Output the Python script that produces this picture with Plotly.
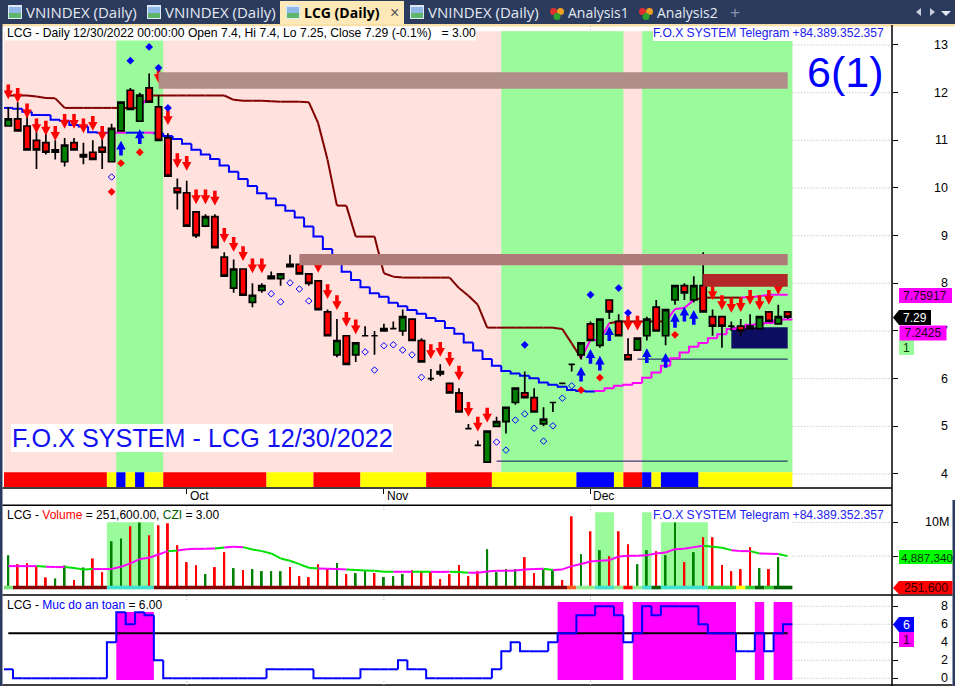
import plotly.graph_objects as go

# ---------- data ----------
open_ = [11.30,11.45,11.30,11.0,10.95,10.75,10.55,10.95,10.65,10.75,
         10.85,10.55,11.2,12.05,11.4,12.1,11.7,11.05,10.0,9.9,
         9.5,9.2,9.4,8.55,7.9,8.3,7.6,7.85,8.1,8.1,
         8.4,8.4,8.2,8.05,7.4,6.5,6.9,6.5,6.9,6.9,
         7.0,7.05,7.0,7.25,6.8,6.0,6.15,5.9,5.7,4.95,
         4.6,4.25,5.0,5.1,5.5,5.7,5.6,5.05,5.5,5.9,
         6.3,6.5,7.15,6.7,7.65,7.2,6.5,6.6,6.9,7.5,
         6.9,7.65,7.95,7.65,7.95,7.3,7.3,7.1,7.1,7.1,
         7.05,7.4,7.15,7.4]
high = [11.7,11.8,11.55,11.25,11.2,11.0,11.05,11.05,10.95,11.0,
        11.05,11.35,11.8,12.1,12.0,12.4,11.95,11.15,10.2,10.15,
        9.5,9.45,9.45,8.65,8.5,8.3,8.0,8.0,8.25,8.2,
        8.6,8.4,8.2,8.05,7.45,7.25,6.9,6.75,7.1,7.0,
        7.15,7.2,7.45,7.25,6.85,6.2,6.3,5.9,5.8,5.05,
        4.7,4.9,5.2,5.4,5.8,6.15,5.8,5.4,5.5,5.9,
        6.3,6.75,7.2,7.25,7.65,7.35,6.85,6.85,7.3,7.65,
        7.45,7.95,8.0,8.15,8.65,7.45,7.3,7.2,7.25,7.35,
        7.3,7.4,7.55,7.4]
low = [11.3,11.2,10.8,10.4,10.7,10.6,10.45,10.8,10.5,10.6,
       10.4,10.55,11.2,11.65,11.4,11.8,11.0,10.25,9.55,9.2,
       8.95,9.2,8.75,8.15,7.8,7.75,7.5,7.8,8.15,7.95,
       8.35,8.2,7.95,7.45,6.9,6.45,6.3,6.35,6.9,6.5,
       7.0,7.05,6.9,6.8,6.35,5.95,6.05,5.7,5.3,4.95,
       4.6,4.25,5.0,4.85,5.45,5.6,5.3,5.0,5.3,5.9,
       6.15,6.4,6.8,6.65,7.25,6.9,6.4,6.6,6.8,7.0,
       6.7,7.55,7.65,7.6,7.4,6.9,6.65,7.0,6.9,7.05,
       7.05,7.2,7.15,7.25]
close = [11.45,11.20,10.80,10.8,10.75,10.8,10.9,10.8,10.7,10.6,
         10.75,11.25,11.8,11.65,11.95,11.8,11.0,10.25,9.9,9.2,
         9.0,9.4,8.75,8.15,8.3,7.75,7.75,7.95,8.15,8.2,
         8.35,8.2,8.0,7.45,6.9,6.8,6.3,6.75,6.9,6.9,
         7.05,7.05,7.3,6.8,6.35,6.0,6.1,5.7,5.3,4.95,
         4.6,4.9,5.1,5.4,5.8,5.6,5.3,5.15,5.5,5.9,
         6.3,6.75,6.8,7.25,7.4,6.9,6.4,6.85,7.25,7.0,
         7.45,7.95,7.8,7.95,7.4,7.1,7.1,7.1,7.0,7.05,
         7.3,7.2,7.3,7.29]
bars = list(range(len(close)))

upper_line = [11.94,11.94,11.94,11.92,11.89,11.88,11.68,11.68,11.68,11.68,
              11.68,11.68,11.68,11.68,11.68,11.94,11.94,11.94,11.94,11.94,
              11.94,11.94,11.94,11.94,11.85,11.83,11.83,11.83,11.82,11.81,
              11.81,11.81,11.80,11.36,10.59,9.63,9.63,8.98,8.98,8.98,
              8.21,8.14,8.12,8.12,8.12,8.12,8.12,8.12,7.90,7.74,
              7.55,7.07,7.07,7.07,7.07,7.07,7.07,7.07,7.07,7.04,
              6.74,6.43,6.81,6.81,7.16,7.20,7.20,7.20,7.20,7.20,
              7.20,7.46,7.48,7.65,7.70,7.70,7.70,7.70,7.70,7.71,
              7.73,7.76,7.76,7.75917]
upper_magenta = [15,62,63,64,71,72,73,79,80,81,82,83]

lower_line = [11.68,11.66,11.60,11.53,11.53,11.43,11.41,11.32,11.29,11.17,
              11.16,11.16,11.16,11.16,11.16,11.16,11.15,11.09,11.03,10.93,
              10.80,10.70,10.61,10.47,10.34,10.19,10.04,9.89,9.78,9.64,
              9.52,9.38,9.19,8.98,8.72,8.49,8.24,8.07,7.92,7.79,
              7.72,7.59,7.52,7.44,7.36,7.27,7.21,7.06,6.94,6.76,
              6.59,6.41,6.27,6.16,6.11,6.06,6.01,5.92,5.87,5.83,
              5.76,5.74,5.73,5.74,5.80,5.85,5.87,5.91,6.02,6.13,
              6.27,6.43,6.55,6.67,6.75,6.85,6.93,7.04,7.07,7.13,
              7.14,7.17,7.22,7.2425]
lower_magenta = [11,12,15] + list(range(63,84))

red_arrow_bars = [0,1,2,3,4,5,6,7,8,9,10,16,17,18,19,20,21,22,23,24,25,26,27,33,34,35,36,37,
                  45,46,47,48,49,50,51,66,67,75,76,77,78,79,80,81,82]
red_arrow_tips = [11.86,11.79,11.46,11.15,11.10,10.99,11.24,11.24,11.15,11.20,10.99,12.20,11.32,
                  10.42,10.36,9.66,9.66,9.63,8.85,8.66,8.47,8.21,8.21,8.22,7.67,7.44,7.09,6.93,
                  6.41,6.46,6.25,5.96,5.20,4.89,5.08,7.01,7.01,7.65,7.44,7.38,7.40,7.55,7.44,7.55,7.76]
blue_arrow_bars = [12,14,61,62,63,64,68,70,71,72,73]
blue_arrow_tips = [10.99,11.23,6.25,6.62,6.48,7.10,6.64,6.54,7.38,7.51,7.44]

blue_dot_bars = [13,15,16,17,55,62,65,66]
blue_dot_vals = [12.67,12.96,12.52,11.68,6.71,7.76,7.90,7.38]
red_dot_bars = [11,12,14,51,61,63,71]
red_dot_vals = [9.92,10.52,10.75,3.64,5.76,6.02,6.92]
hollow_bars = [11,28,29,30,31,32,38,39,40,41,42,43,44,52,53,54,55,56,57,58,59,60]
hollow_vals = [10.23,7.78,7.61,8.01,7.88,7.63,6.56,6.18,6.69,6.71,6.60,6.50,6.03,
               4.67,4.50,5.13,5.26,4.96,4.69,5.01,5.59,5.85]

regime_green = [(11.5,16.5),(52.5,65.5),(67.5,83.5)]
resist_bands = [(16,83,12.43,12.08,"#B08E89"),(31,83,8.615,8.38,"#B07A78")]
zone_red = (74,83,8.195,7.93)
zone_navy = (77,83,7.08,6.63)
support_levels = [(67,83,6.41),(52,83,4.27)]

signal_runs = [("#FF0000",11),("#FFFF00",1),("#0000FF",1),("#FFFF00",1),("#0000FF",1),("#FFFF00",2),
               ("#FF0000",11),("#FFFF00",5),("#FF0000",5),("#FFFF00",7),("#FF0000",7),("#FFFF00",9),
               ("#0000FF",4),("#FFFF00",1),("#FF0000",2),("#0000FF",1),("#FFFF00",1),("#0000FF",4),("#FFFF00",10)]

volume = [5.03,3.67,3.83,3.27,1.65,1.5,3.47,1.25,3.17,4.53,
          2.46,7.16,7.57,9.44,10.0,8.07,9.59,9.9,6.56,3.98,
          3.52,2.16,3.22,5.5,3.07,2.76,2.92,2.61,2.61,2.61,
          3.22,1.85,1.7,3.67,2.92,3.83,2.16,2.31,2.61,2.31,
          1.7,1.85,2.16,2.76,2.61,2.46,1.4,2.16,3.52,1.85,
          2.61,5.95,2.46,2.92,2.92,4.74,2.31,2.92,2.76,1.25,
          10.96,5.19,8.68,5.8,4.89,8.68,6.71,3.67,5.8,5.65,
          5.04,10.0,3.98,5.5,7.77,7.77,3.52,2.61,2.92,6.25,
          3.07,2.92,4.74,0.2516]
volume_up = [0,5,6,8,11,12,14,21,24,26,27,28,29,35,37,38,40,41,42,51,52,53,54,57,58,61,63,67,68,70,71,73,80,82]
volume_ma = [3.37,3.37,3.37,3.37,3.27,3.22,3.22,3.07,2.87,2.92,
             2.92,2.92,3.27,3.78,4.44,4.64,5.14,5.65,5.75,5.95,
             6.0,6.0,6.06,6.21,6.31,6.26,5.9,5.65,5.3,4.54,
             4.18,3.68,3.12,3.02,2.97,2.92,2.87,2.76,2.71,2.66,
             2.51,2.51,2.51,2.51,2.51,2.51,2.46,2.51,2.46,2.36,
             2.36,2.56,2.66,2.66,2.71,2.87,2.92,2.97,2.76,2.87,
             3.37,3.68,4.08,4.18,4.28,4.84,4.94,4.94,5.04,5.3,
             5.45,5.95,6.0,6.26,6.46,6.31,6.16,5.8,5.65,5.65,
             5.3,5.25,5.2,4.88734]
ma_magenta = [1,2,3,5,6,10,11,12,13,14,15,16,17,19,20,21,22,24,25,34,35,36,42,43,46,47,
              50,51,52,53,54,55,56,57] + list(range(59,75)) + [78,79,81,82]
volume_bands = [(10.5,15.5,10.06),(62.5,64.5,11.57),(67.5,68.5,11.57),(69.5,74.5,10.06)]
czi_runs = [("#77E077",1),("#800000",10),("#40E0D0",5),("#800000",44),("#FF6020",1),("#90EE90",2),("#40E0D0",2),
            ("#90EE90",1),("#FF0000",1),("#90EE90",1),("#40E0D0",1),("#006400",1),("#40E0D0",5),("#32CD32",3),
            ("#FFFF00",1),("#32CD32",1),("#006400",1),("#32CD32",1),("#006400",2)]

safety = [1,0,0,0,0,0,0,0,0,0,
          0,4,7.35,6,7.35,7,2,0,0,0,
          0,0,0,0,0,0,0,0,1,1,
          1,1,1,0,0,0,0,0,1,1,
          1,1,2,1,1,0,0,0,0,0,
          0,0,1,3,4,3,3,3,4,5,
          5,7,7,8,8,7,4,5,8,7,
          8,8,8,8,6,5,5,5,3,3,
          5,3,5,6]
safety_level = 5
safety_bands = [(11.5,15.5,7.37),(58.5,65.5,8.48),(66.5,77.5,8.48),(79.5,80.5,8.48),(81.5,83.5,8.48)]

price_ticks = [4,5,6,7,8,9,10,11,12,13]
volume_ticks = [4.88734,10]
safety_ticks = [0,2,4,6,8]
month_bars = [19,40,62]
month_labels = ["Oct","Nov","Dec"]

tab_labels = ["VNINDEX (Daily)","VNINDEX (Daily)","LCG (Daily)","VNINDEX (Daily)","Analysis1","Analysis2"]

# ---------- helpers ----------
W, H = 955, 686
FONT = "Liberation Sans, Arial, sans-serif"
PINK, GREEN, MAG = "#FFE1DE", "#99FB99", "#FF00FF"
DOT = dict(color="#B5B5B5", width=1, dash="1px,2px")
XR = [-0.458, 94.11]
PR = [3.706, 13.44]

def px(x): return x / W
def py(y): return 1 - y / H

def run_bars(runs):
    xs, ws, cs = [], [], []
    start = 0
    for c, n in runs:
        xs.append(start + n / 2 - .5)
        ws.append(n)
        cs.append(c)
        start += n
    return xs, ws, cs

def steps(values, keep):
    xs, ys = [], []
    for i, v in enumerate(values):
        if i in keep:
            prev = values[i - 1] if i else v
            xs += [i - .5, i - .5, i + .5, None]
            ys += [prev, v, v, None]
    return xs, ys

def segs(values, keep):
    xs, ys = [], []
    for i in range(1, len(values)):
        if i in keep:
            xs += [i - 1, i, None]
            ys += [values[i - 1], values[i], None]
    return xs, ys

def arrows(idx, tips, sign):
    """sign=+1: down arrow with tip at value; sign=-1: up arrow."""
    hw, sw, hh, tot = .5, .19, .185, .31
    xs, ys = [], []
    for b, t in zip(idx, tips):
        xs += [b, b - hw, b - sw, b - sw, b + sw, b + sw, b + hw, b, None]
        ys += [t, t + sign * hh, t + sign * hh, t + sign * tot, t + sign * tot,
               t + sign * hh, t + sign * hh, t, None]
    return xs, ys

fig = go.Figure()
shapes, notes = [], []

def rect(x0, x1, y0, y1, color, xref="x", yref="y", layer="between"):
    shapes.append(dict(type="rect", xref=xref, yref=yref, x0=x0, x1=x1, y0=y0, y1=y1,
                       fillcolor=color, line=dict(width=0), layer=layer))

def prect(x0, x1, y0, y1, color, layer="above"):
    rect(px(x0), px(x1), py(y1), py(y0), color, "paper", "paper", layer)

def pline(x0, y0, x1, y1, color="black", width=1.5, dash="solid"):
    shapes.append(dict(type="line", xref="paper", yref="paper", x0=px(x0), x1=px(x1), y0=py(y0), y1=py(y1),
                       line=dict(color=color, width=width, dash=dash), layer="above"))

def ppath(points, color, layer="above"):
    d = "M" + "L".join(f"{px(a):.5f},{py(b):.5f}" for a, b in points) + "Z"
    shapes.append(dict(type="path", xref="paper", yref="paper", path=d, fillcolor=color,
                       line=dict(width=0), layer=layer))

def txt(x, y, s, anchor="left", size=12, color="black", fam=FONT):
    notes.append(dict(xref="paper", yref="paper", x=px(x), y=py(y), text=s, showarrow=False,
                      xanchor=anchor, yanchor="middle", borderpad=0, borderwidth=0,
                      font=dict(size=size, color=color, family=fam)))

# ---------- main pane ----------
rect(-.5, 83.5, 4.036, 13.29, PINK)
for a, b in regime_green:
    rect(a, b, 4.036, 13.29, GREEN)
rect(zone_navy[0], zone_navy[1], zone_navy[3], zone_navy[2], "#0D0D62")
for a, b, lv in support_levels:
    shapes.append(dict(type="line", xref="x", yref="y", x0=a, x1=b, y0=lv, y1=lv,
                       line=dict(color="#101060", width=1), layer="between"))
for t in price_ticks:
    shapes.append(dict(type="line", xref="x", yref="y", x0=83.5, x1=XR[1], y0=t, y1=t, line=DOT, layer="between"))

xs, ws, cs = run_bars(signal_runs)
fig.add_trace(go.Bar(x=xs, y=[.309] * len(xs), base=[3.727] * len(xs), width=ws,
                     marker=dict(color=cs, line=dict(width=0)), yaxis="y"))
for keep, col in ((set(bars) - set(lower_magenta), "#0000FF"), (set(lower_magenta), MAG)):
    xs, ys = steps(lower_line, keep)
    fig.add_trace(go.Scatter(x=xs, y=ys, mode="lines", line=dict(color=col, width=2), yaxis="y"))
for keep, col in ((set(bars) - set(upper_magenta), "#800000"), (set(upper_magenta), MAG)):
    xs, ys = segs(upper_line, keep)
    fig.add_trace(go.Scatter(x=xs, y=ys, mode="lines", line=dict(color=col, width=2), yaxis="y"))

fig.add_trace(go.Candlestick(
    x=bars, open=open_, high=high, low=low, close=close, whiskerwidth=0, yaxis="y4",
    increasing=dict(fillcolor="#008000", line=dict(color="black", width=1.7)),
    decreasing=dict(fillcolor="#FF0000", line=dict(color="black", width=1.7))))

xs, ys = arrows(red_arrow_bars, red_arrow_tips, 1)
fig.add_trace(go.Scatter(x=xs, y=ys, mode="lines", fill="toself", fillcolor="#FF0000",
                         line=dict(width=0, color="#FF0000"), yaxis="y4"))
xs, ys = arrows(blue_arrow_bars, blue_arrow_tips, -1)
fig.add_trace(go.Scatter(x=xs, y=ys, mode="lines", fill="toself", fillcolor="#0000FF",
                         line=dict(width=0, color="#0000FF"), yaxis="y4"))
fig.add_trace(go.Scatter(x=blue_dot_bars, y=blue_dot_vals, mode="markers", yaxis="y4",
                         marker=dict(symbol="diamond", size=6, color="#0000FF")))
fig.add_trace(go.Scatter(x=red_dot_bars, y=red_dot_vals, mode="markers", yaxis="y4", cliponaxis=False,
                         marker=dict(symbol="diamond", size=6, color="#FF0000")))
fig.add_trace(go.Scatter(x=hollow_bars, y=hollow_vals, mode="markers", yaxis="y4",
                         marker=dict(symbol="diamond-open", size=5, color="#0000FF", line=dict(width=1, color="#0000FF"))))

for a, b, t, u, c in resist_bands:
    rect(a, b, u, t, c, layer="above")
rect(zone_red[0], zone_red[1], zone_red[3], zone_red[2], "#B22828", layer="above")

# ---------- volume pane ----------
for a, b, t in volume_bands:
    rect(a, b, -.167, t, GREEN, yref="y2")
for t in volume_ticks:
    shapes.append(dict(type="line", xref="x", yref="y2", x0=83.5, x1=XR[1], y0=t, y1=t, line=DOT, layer="between"))
fig.add_trace(go.Bar(x=bars, y=volume, width=.2, yaxis="y2",
                     marker=dict(color=["#008000" if i in volume_up else "#FF0000" for i in bars], line=dict(width=0))))
xs, ws, cs = run_bars(czi_runs)
fig.add_trace(go.Bar(x=xs, y=[.55] * len(xs), base=[-.167] * len(xs), width=ws, yaxis="y2",
                     marker=dict(color=cs, line=dict(width=0))))
for keep, col in ((set(bars) - set(ma_magenta), "#00E000"), (set(ma_magenta), MAG)):
    xs, ys = segs(volume_ma, keep)
    fig.add_trace(go.Scatter(x=xs, y=ys, mode="lines", line=dict(color=col, width=2), yaxis="y2"))

# ---------- safety pane ----------
for a, b, t in safety_bands:
    rect(a, b, -.19, t, MAG, yref="y3")
for t in safety_ticks:
    shapes.append(dict(type="line", xref="x", yref="y3", x0=83.5, x1=XR[1], y0=t, y1=t, line=DOT, layer="between"))
fig.add_trace(go.Scatter(x=[0, 83], y=[safety_level, safety_level], mode="lines",
                         line=dict(color="black", width=2), yaxis="y3"))
xs, ys = steps(safety, set(bars))
fig.add_trace(go.Scatter(x=xs, y=ys, mode="lines", line=dict(color="#0000FF", width=2), yaxis="y3"))

# ---------- chrome ----------
prect(0, W, 0, 24, "#2B3B5E")
prect(0, W, 24, 26.5, "#F9E0A8")
prect(0, 2.5, 24, H, "#2B3B5E")
prect(952.5, W, 500, H, "#2B3B5E")
prect(280, 404, 1, 24, "#FDE9B8")

for x0 in (8, 147, 286, 410):
    prect(x0, x0 + 14, 5, 19, "#DDE9F5")
    prect(x0 + 1, x0 + 13, 13, 18, "#5FB56A")
    prect(x0 + 1, x0 + 13, 7, 13, "#8FB8E8")
tab_x = [26, 165, 304, 428, 568, 657]
for i, (lab, x) in enumerate(zip(tab_labels, tab_x)):
    if i == 2:
        txt(x, 12.5, f"<b>{lab}</b>", size=14, color="black", fam="Open Sans")
    elif lab.startswith("VN"):
        txt(x, 12.5, lab, size=15, color="#E4E9F2", fam="Open Sans")
    else:
        txt(x, 12.5, lab, size=14, color="#E4E9F2", fam="Open Sans")
txt(394, 12, "×", anchor="center", size=16, color="#555555")
for x0 in (550, 639):
    for dx, dy, c in ((0, 0, "#E03030"), (7, 0, "#F0A020"), (3.5, 5, "#30A030")):
        shapes.append(dict(type="circle", xref="paper", yref="paper", x0=px(x0 + dx), x1=px(x0 + dx + 7),
                           y0=py(8 + dy + 7), y1=py(8 + dy), fillcolor=c, line=dict(width=0), layer="above"))
txt(734.5, 12, "+", anchor="center", size=17, color="#8A93A6")
ppath([(921, 8), (921, 16), (916, 12)], "#C8CEDB")
ppath([(930, 8), (930, 16), (935, 12)], "#C8CEDB")
ppath([(941, 11), (951, 11), (946, 16)], "#E4E9F2")

# pane frames
pline(2.5, 488, 892, 488)
pline(2.5, 505.3, 892, 505.3)
pline(2.5, 595, 952.5, 595)
pline(2.5, 685, 952.5, 685)
pline(892, 25, 892, H)
for b in month_bars:
    xp = 8.3 + 9.39 * b
    pline(xp, 506, xp, 512, "#B5B5B5", 1, "1px,2px")
    pline(xp, 596, xp, 602, "#B5B5B5", 1, "1px,2px")
    pline(xp, 681, xp, 685, "#B5B5B5", 1, "1px,2px")
    pline(xp, 26, xp, 31, "#B5B5B5", 1, "1px,2px")

# header labels
prect(5, 476, 26.5, 40.5, "white")
txt(7, 33.5, "LCG - Daily 12/30/2022 00:00:00 Open 7.4, Hi 7.4, Lo 7.25, Close 7.29 (-0.1%)&nbsp;&nbsp; = 3.00", size=12.15)
prect(653, 793, 26.5, 41, "white")
txt(653, 33.5, "F.O.X SYSTEM Telegram +84.389.352.357", color="#2020F0", size=12.1)
txt(845, 72, "6(1)", anchor="center", size=43, color="#0000FF")
prect(11, 393, 424, 452, "white")
txt(12, 438, "F.O.X SYSTEM - LCG 12/30/2022", size=25.2, color="#1010F0")
for b, lab in zip(month_bars, month_labels):
    notes.append(dict(xref="x", yref="paper", x=b, y=py(496), xshift=2, text=lab, showarrow=False,
                      xanchor="left", yanchor="middle", borderpad=0, font=dict(size=12, color="black", family=FONT)))

txt(7, 515, 'LCG - <span style="color:#FF0000">Volume</span> = 251,600.00, <span style="color:#006000">CZI</span> = 3.00')
txt(653, 515, "F.O.X SYSTEM Telegram +84.389.352.357", color="#2020F0", size=12.1)
txt(7, 605, 'LCG - <span style="color:#0000FF">Muc do an toan</span> = 6.00')

# right-hand tick labels
for t in price_ticks:
    notes.append(dict(xref="paper", yref="y", x=px(948.5), y=t, text=str(t), showarrow=False, xanchor="right",
                      yanchor="middle", borderpad=0, font=dict(size=12.5, color="black", family=FONT)))
for t in safety_ticks:
    notes.append(dict(xref="paper", yref="y3", x=px(948.5), y=t, text=str(t), showarrow=False, xanchor="right",
                      yanchor="middle", borderpad=0, font=dict(size=12.5, color="black", family=FONT)))
txt(948.5, 522, "10M", anchor="right", size=12.5)

# value flags
prect(899, 952, 288, 303, MAG)
txt(903, 295.5, "7.75917", size=12, color="#200020")
ppath([(893, 317.5), (899, 310), (931, 310), (931, 325), (899, 325)], "black")
txt(903, 317.5, "7.29", size=12, color="white")
notes.append(dict(xref="paper", yref="paper", x=px(899), y=py(333), width=46, height=14, align="center",
                  text="7.2425", showarrow=False, xanchor="left", yanchor="middle", borderpad=0,
                  bgcolor=MAG, font=dict(size=12, color="#200020", family=FONT)))
prect(899, 914, 340, 355, GREEN)
txt(906.5, 347.5, "1", anchor="center", size=12, color="#004000")
prect(899, 952.5, 550, 564, "#00FF00")
txt(900.5, 557, "4,887,340", size=11.7, color="#003000")
ppath([(893, 588), (899, 581), (952.5, 581), (952.5, 594.3), (899, 594.3)], "#FF0000")
txt(904, 588, "251,600", size=12.2, color="#300000")
ppath([(893, 624.5), (899, 617), (914, 617), (914, 632), (899, 632)], "#0000FF")
txt(906.5, 624.5, "6", anchor="center", size=12.5, color="white")
prect(899, 914, 632, 647, MAG)
txt(906.5, 639.5, "1", anchor="center", size=12.5, color="#300030")

def yax(dom, rng, ticks):
    return dict(domain=[py(dom[1]), py(dom[0])], range=rng, side="right", anchor="x", tickmode="array",
                tickvals=ticks, showticklabels=False, ticks="outside", ticklen=5, tickcolor="black",
                showgrid=False, zeroline=False, showline=False, fixedrange=True)

fig.update_layout(
    width=W, height=H, margin=dict(l=0, r=0, t=0, b=0), autosize=False,
    paper_bgcolor="white", plot_bgcolor="white", showlegend=False, hovermode=False,
    barmode="overlay", boxgap=0.05, dragmode=False,
    font=dict(family=FONT, size=12, color="black"),
    xaxis=dict(domain=[px(4), px(892)], range=XR, anchor="y", tickmode="array", tickvals=month_bars,
               showticklabels=False, ticks="outside", ticklen=5, tickcolor="black", showgrid=False,
               zeroline=False, rangeslider=dict(visible=False), fixedrange=True),
    yaxis=yax((24, 488), PR, price_ticks),
    yaxis2=yax((505.3, 595), [-1.03, 12.63], volume_ticks),
    yaxis3=yax((595, 685), [-0.744, 9.256], safety_ticks),
    yaxis4=dict(overlaying="y", range=PR, anchor="x", visible=False, fixedrange=True),
    shapes=shapes, annotations=notes,
)
for tr in fig.data:
    tr.hoverinfo = "skip"

fig.write_html("out.html", config=dict(displayModeBar=False),
               post_script="document.body.style.margin='0';document.documentElement.style.overflow='hidden';")
